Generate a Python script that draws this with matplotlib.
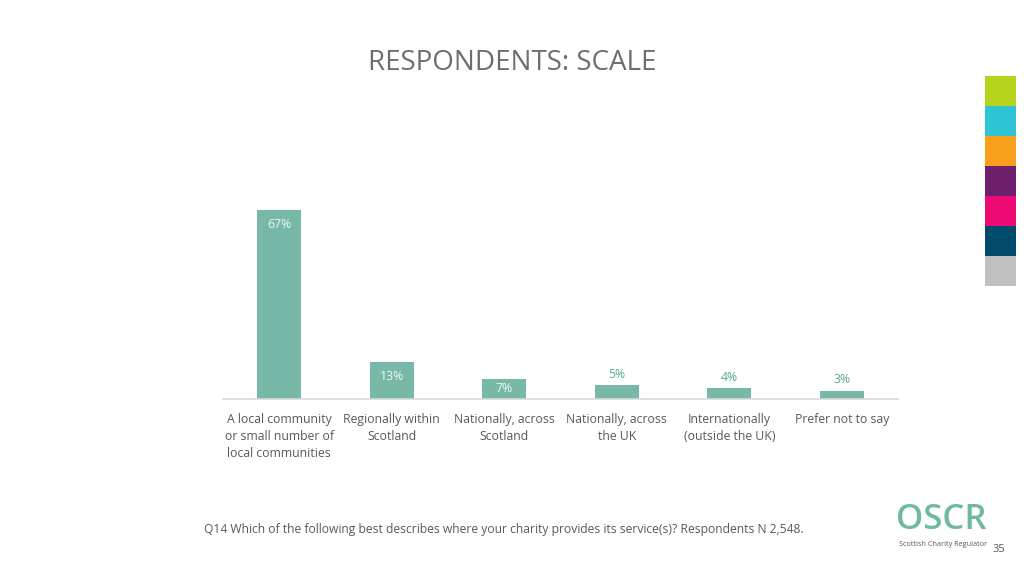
import matplotlib
matplotlib.use('Agg')
import matplotlib.pyplot as plt
from matplotlib.patches import Rectangle

plt.rcParams['font.family'] = ['Open Sans', 'DejaVu Sans']

categories = [
    "A local community\nor small number of\nlocal communities",
    "Regionally within\nScotland",
    "Nationally, across\nScotland",
    "Nationally, across\nthe UK",
    "Internationally\n(outside the UK)",
    "Prefer not to say",
]
values = [67, 13, 7, 5, 4, 3]
labels = ["67%", "13%", "7%", "5%", "4%", "3%"]
inside = [True, True, True, False, False, False]

strip_colors = ["#b5d31b", "#2ec4d6", "#f8a01c", "#6e1f6b", "#ee0a75", "#004a6b", "#c0c0c0"]

bar_color = "#77b8a9"
grey = "#595959"

fig = plt.figure(figsize=(10.24, 5.76), dpi=100)
ax = fig.add_axes([223 / 1024, 1 - 399 / 576, 675 / 1024, 197.4 / 576])

x = list(range(len(values)))
ax.bar(x, values, width=0.39, color=bar_color, zorder=2)
ax.set_xlim(-0.5, 5.5)
ax.set_ylim(0, 70)

for xi, v, lab, ins in zip(x, values, labels, inside):
    if ins:
        y = v - 5 if v > 10 else v * 0.55
        ax.text(xi, y, lab, ha="center", va="center", color="#eef6f3", fontsize=8.8)
    else:
        ax.text(xi, v + 3.8, lab, ha="center", va="center", color="#5aa896", fontsize=8.8)

for s in ["top", "right", "left"]:
    ax.spines[s].set_visible(False)
ax.spines["bottom"].set_color("#d9d9d9")
ax.spines["bottom"].set_linewidth(1.2)
ax.set_yticks([])
ax.set_xticks(x)
ax.set_xticklabels(categories, fontsize=8.8, color=grey, linespacing=1.4, va="top")
ax.tick_params(axis="x", length=0, pad=10)

fig.text(0.5, 1 - 63 / 576, "RESPONDENTS: SCALE", ha="center", va="center", fontsize=20,
         color="#6e6e6e")

fig.text(204 / 1024, 1 - 530 / 576,
         "Q14 Which of the following best describes where your charity provides its service(s)? Respondents N 2,548.",
         ha="left", va="center", fontsize=8.7, color=grey)

# colour strip on the right
for i, c in enumerate(strip_colors):
    fig.patches.append(Rectangle((985 / 1024, 1 - (76 + 30 * (i + 1)) / 576), 31 / 1024, 30 / 576,
                                 transform=fig.transFigure, facecolor=c, edgecolor="none"))

# logo
fig.text(941 / 1024, 1 - 520 / 576, "OSCR", ha="center", va="center", fontsize=25,
         fontweight="semibold", color="#6fb8a2")
fig.text(943 / 1024, 1 - 545 / 576, "Scottish Charity Regulator", ha="center", va="center",
         fontsize=5.2, color=grey)
fig.text(999 / 1024, 1 - 549 / 576, "35", ha="center", va="center", fontsize=8, color=grey)

fig.savefig("out.png", dpi=100)
